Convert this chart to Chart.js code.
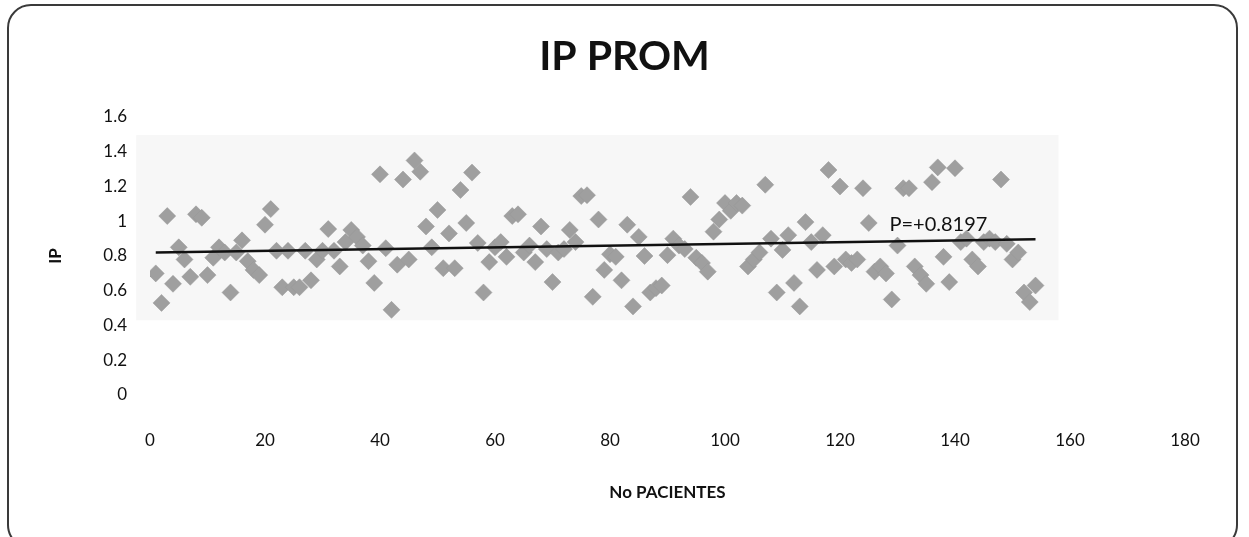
<!DOCTYPE html>
<html>
<head>
<meta charset="utf-8">
<script src="https://cdn.jsdelivr.net/npm/chart.js@4/dist/chart.umd.min.js"></script>
<style>
  html, body { margin: 0; padding: 0; background: #fff; }
  body { width: 1249px; height: 537px; position: relative; overflow: hidden; }
  .frame {
    position: absolute; left: 7px; top: 4px; width: 1231px; height: 545px;
    border: 2px solid #3a3a3a; border-radius: 24px; box-sizing: border-box;
  }
  #chart { position: absolute; left: 0; top: 0; }
</style>
</head>
<body>
<div class="frame"></div>
<canvas id="chart" width="1249" height="537"></canvas>
<script>
// IP promedio por paciente (paciente 1 .. 154)
const ipValues = [
  0.70, 0.53, 1.03, 0.64, 0.85, 0.78, 0.68, 1.04, 1.02, 0.69,
  0.79, 0.85, 0.82, 0.59, 0.82, 0.89, 0.77, 0.72, 0.69, 0.98,
  1.07, 0.83, 0.62, 0.83, 0.62, 0.62, 0.83, 0.66, 0.78, 0.83,
  0.955, 0.83, 0.74, 0.88, 0.95, 0.91, 0.86, 0.77, 0.645, 1.27,
  0.845, 0.49, 0.75, 1.24, 0.78, 1.35, 1.285, 0.97, 0.85, 1.065,
  0.73, 0.93, 0.73, 1.18, 0.99, 1.28, 0.875, 0.59, 0.765, 0.85,
  0.88, 0.795, 1.03, 1.04, 0.82, 0.86, 0.765, 0.97, 0.84, 0.65,
  0.82, 0.84, 0.95, 0.88, 1.145, 1.15, 0.565, 1.01, 0.72, 0.81,
  0.795, 0.66, 0.98, 0.51, 0.91, 0.80, 0.59, 0.615, 0.63, 0.805,
  0.90, 0.86, 0.84, 1.14, 0.79, 0.76, 0.71, 0.94, 1.01, 1.105,
  1.06, 1.105, 1.09, 0.74, 0.78, 0.82, 1.21, 0.90, 0.59, 0.835,
  0.92, 0.645, 0.51, 0.995, 0.88, 0.72, 0.92, 1.295, 0.74, 1.20,
  0.78, 0.76, 0.78, 1.19, 0.99, 0.71, 0.74, 0.70, 0.55, 0.86,
  1.19, 1.19, 0.74, 0.69, 0.64, 1.225, 1.31, 0.795, 0.65, 1.305,
  0.88, 0.90, 0.78, 0.74, 0.88, 0.90, 0.88, 1.24, 0.87, 0.78,
  0.82, 0.59, 0.535, 0.63
];
const patients = ipValues.map((v, i) => i + 1);

// linea de tendencia lineal
const trendIntercept = 0.8197;
const trendSlope = 0.0005;
const trendLabel = "P=+0.8197";

const xTicks = [0, 20, 40, 60, 80, 100, 120, 140, 160, 180];
const yTicks = [0, 0.2, 0.4, 0.6, 0.8, 1, 1.2, 1.4, 1.6];

// area sombreada del grafico (en unidades de datos)
const plotBox = { x0: -2.4, x1: 158, y0: 0.43, y1: 1.496 };

const points = patients.map((p, i) => ({ x: p, y: ipValues[i] }));
const firstX = patients[0];
const lastX = patients[patients.length - 1];
const trendPoints = [
  { x: firstX, y: trendIntercept + trendSlope * firstX },
  { x: lastX, y: trendIntercept + trendSlope * lastX },
];

const FONT = "Lato, 'Open Sans', sans-serif";

const decor = {
  id: "decor",
  beforeDatasetsDraw(chart) {
    const { ctx, scales: { x, y } } = chart;
    const l = x.getPixelForValue(plotBox.x0), r = x.getPixelForValue(plotBox.x1);
    const t = y.getPixelForValue(plotBox.y1), b = y.getPixelForValue(plotBox.y0);
    ctx.save();
    ctx.fillStyle = "#f7f7f7";
    ctx.fillRect(l, t, r - l, b - t);
    ctx.restore();
  },
  afterDatasetsDraw(chart) {
    const { ctx, scales: { x, y } } = chart;
    ctx.save();
    ctx.font = "20px " + FONT;
    ctx.fillStyle = "#111";
    ctx.textBaseline = "middle";
    ctx.fillText(trendLabel, x.getPixelForValue(128.6), y.getPixelForValue(0.98));
    // titulo centrado en todo el lienzo
    ctx.font = "bold 41px " + FONT;
    ctx.textAlign = "center";
    ctx.fillText("IP PROM", chart.width / 2, 57);
    ctx.restore();
  }
};

const ctx = document.getElementById("chart").getContext("2d");
const chart = new Chart(ctx, {
  type: "scatter",
  data: {
    datasets: [
      {
        label: "Tendencia",
        type: "line",
        data: trendPoints,
        borderColor: "#111",
        borderWidth: 2.5,
        pointRadius: 0,
        fill: false,
        order: 0,
      },
      {
        label: "IP PROM",
        data: points,
        pointStyle: "rectRot",
        pointRadius: 8.5,
        backgroundColor: "#9f9f9f",
        borderColor: "#969696",
        borderWidth: 0.5,
        order: 1,
      },
    ],
  },
  options: {
    responsive: false,
    animation: false,
    layout: { padding: { left: 0, right: 64, top: 117, bottom: 0 } },
    plugins: {
      legend: { display: false },
      tooltip: { enabled: false },
      title: { display: false },
    },
    scales: {
      x: {
        type: "linear",
        min: 0,
        max: 180,
        afterBuildTicks: (s) => { s.ticks = xTicks.map((v) => ({ value: v })); },
        afterFit: (s) => { s.height = 142; },
        grid: { display: false, drawTicks: false },
        border: { display: false },
        ticks: { color: "#111", padding: 35, maxRotation: 0, font: { family: FONT, size: 17 } },
        title: {
          display: true,
          text: "No PACIENTES",
          color: "#111",
          font: { family: FONT, size: 17, weight: "bold" },
          padding: { top: 4, bottom: 34 },
        },
      },
      y: {
        min: 0,
        max: 1.6,
        afterBuildTicks: (s) => { s.ticks = yTicks.map((v) => ({ value: v })); },
        afterFit: (s) => { s.width = 150; },
        grid: { display: false, drawTicks: false },
        border: { display: false },
        ticks: {
          color: "#111",
          padding: 23,
          font: { family: FONT, size: 17 },
          callback: (v) => String(v),
        },
        title: {
          display: true,
          text: "IP",
          color: "#111",
          font: { family: FONT, size: 17, weight: "bold" },
          padding: { top: 45, bottom: 0 },
        },
      },
    },
  },
  plugins: [decor],
});
</script>
</body>
</html>
